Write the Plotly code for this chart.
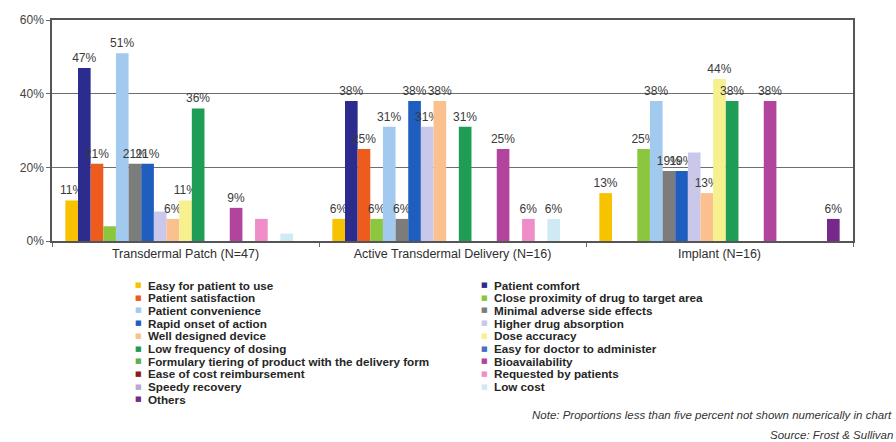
import plotly.graph_objects as go

# Delivery routes (x categories)
categories = ["Transdermal Patch (N=47)", "Active Transdermal Delivery (N=16)", "Implant (N=16)"]

# Reasons (series), in plotting order
series_names = [
    "Easy for patient to use", "Patient comfort",
    "Patient satisfaction", "Close proximity of drug to target area",
    "Patient convenience", "Minimal adverse side effects",
    "Rapid onset of action", "Higher drug absorption",
    "Well designed device", "Dose accuracy",
    "Low frequency of dosing", "Easy for doctor to administer",
    "Formulary tiering of product with the delivery form", "Bioavailability",
    "Ease of cost reimbursement", "Requested by patients",
    "Speedy recovery", "Low cost",
    "Others",
]

series_colors = [
    "#F7C200", "#2B2C8E",
    "#EE5B1F", "#8CC63E",
    "#A2C9EE", "#7C7C7C",
    "#1F5EBE", "#C9C8EA",
    "#FAC08E", "#F6F08E",
    "#1F9C56", "#4A6FC0",
    "#5FAE52", "#B2449E",
    "#8A1C1C", "#EF8DC8",
    "#B7A8D6", "#CFE9F5",
    "#77298A",
]

# Percent of respondents, one value per series for each route
patch_values = [11, 47, 21, 4, 51, 21, 21, 8, 6, 11, 36, 0, 0, 9, 0, 6, 0, 2, 0]
active_values = [6, 38, 25, 6, 31, 6, 38, 31, 38, 0, 31, 0, 0, 25, 0, 6, 0, 6, 0]
implant_values = [13, 0, 0, 25, 38, 19, 19, 24, 13, 44, 38, 0, 0, 38, 0, 0, 0, 0, 6]

# Bars that carry no value label
patch_unlabeled = ["Higher drug absorption", "Requested by patients"]
active_unlabeled = []
implant_unlabeled = ["Higher drug absorption"]

y_ticks = [0, 20, 40, 60]
y_tick_text = ["0%", "20%", "40%", "60%"]

FONT = "Liberation Sans, Arial, sans-serif"
W, H = 896, 442
ML, MR, MT, MB = 52, 43, 20, 201


def label(value, name, hidden):
    # proportions below five percent are not printed
    if value < 5 or name in hidden:
        return ""
    return f"{value}%"


fig = go.Figure()
for i, name in enumerate(series_names):
    vals = [patch_values[i], active_values[i], implant_values[i]]
    texts = [
        label(patch_values[i], name, patch_unlabeled),
        label(active_values[i], name, active_unlabeled),
        label(implant_values[i], name, implant_unlabeled),
    ]
    fig.add_trace(go.Bar(
        name=name, x=categories, y=vals,
        marker=dict(color=series_colors[i], line=dict(width=0)),
        text=texts, textposition="outside", constraintext="none",
        textfont=dict(family=FONT, size=12, color="#3a3a3a"),
        cliponaxis=False, showlegend=False,
        hovertemplate="%{x}<br>" + name + ": %{y}%<extra></extra>",
    ))

fig.update_layout(
    width=W, height=H,
    margin=dict(l=ML, r=MR, t=MT, b=MB),
    paper_bgcolor="white", plot_bgcolor="white",
    barmode="group", bargap=0.1, bargroupgap=0,
    font=dict(family=FONT, color="#333333"),
    xaxis=dict(
        type="category", tickson="boundaries",
        ticks="outside", ticklen=4, tickcolor="#6a6a6a",
        showline=True, linecolor="#555555", linewidth=1.5, mirror=True,
        tickfont=dict(size=12.5, color="#2e2e2e"),
        showgrid=False,
    ),
    yaxis=dict(
        range=[0, 60], tickmode="array", tickvals=y_ticks, ticktext=y_tick_text,
        ticks="outside", ticklen=4, tickcolor="#6a6a6a",
        showline=True, linecolor="#555555", linewidth=1.5, mirror=True,
        gridcolor="#6e6e6e", gridwidth=1,
        tickfont=dict(size=12, color="#444444"),
        zeroline=False,
    ),
)

# Legend drawn as two columns of compact entries below the plot
plot_w = W - ML - MR
plot_h = H - MT - MB


def px_to_paper(px, py):
    return (px - ML) / plot_w, (H - MB - py) / plot_h


col_marker_x = [138, 484]
col_text_x = [146, 492]
row_y0, row_step = 285, 12.7
for i, name in enumerate(series_names):
    col, row = i % 2, i // 2
    py = row_y0 + row * row_step
    mx, my = px_to_paper(col_marker_x[col], py)
    tx, ty = px_to_paper(col_text_x[col], py)
    fig.add_annotation(
        xref="paper", yref="paper", x=mx, y=my, xanchor="center", yanchor="middle",
        text="■", showarrow=False,
        font=dict(family="DejaVu Sans", size=7, color=series_colors[i]),
    )
    fig.add_annotation(
        xref="paper", yref="paper", x=tx, y=ty, xanchor="left", yanchor="middle",
        text=f"<b>{name}</b>", showarrow=False,
        font=dict(family=FONT, size=11.7, color="#262626"),
    )

nx, ny = px_to_paper(894, 415)
fig.add_annotation(
    xref="paper", yref="paper", x=nx, y=ny, xanchor="right", yanchor="middle",
    text="<i>Note: Proportions less than five percent not shown numerically in chart</i>",
    showarrow=False, font=dict(family=FONT, size=11.5, color="#333333"),
)
sx, sy = px_to_paper(895, 435)
fig.add_annotation(
    xref="paper", yref="paper", x=sx, y=sy, xanchor="right", yanchor="middle",
    text="<i>Source: Frost &amp; Sullivan</i>",
    showarrow=False, font=dict(family=FONT, size=11.5, color="#333333"),
)

fig.write_html("out.html")
